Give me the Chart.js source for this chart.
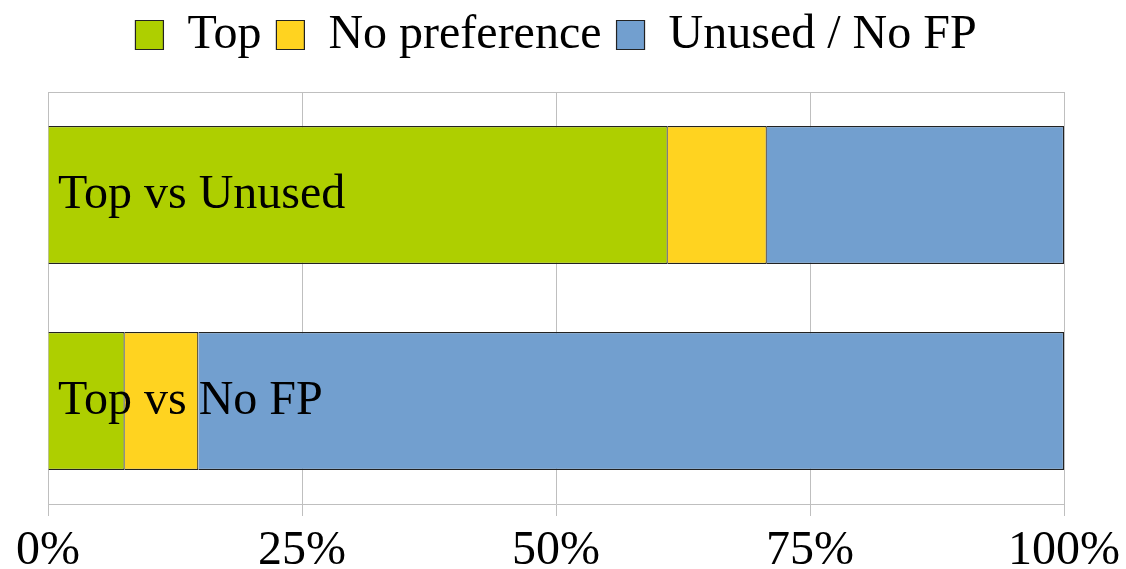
<!DOCTYPE html>
<html>
<head>
<meta charset="utf-8">
<script src="https://cdn.jsdelivr.net/npm/chart.js@4/dist/chart.umd.min.js"></script>
<style>
html,body{margin:0;padding:0;background:#fff;}
#wrap{width:1126px;height:569px;position:relative;}
</style>
</head>
<body>
<div id="wrap"><canvas id="c"></canvas></div>
<script>
const categories = ["Top vs Unused", "Top vs No FP"];
const topValues = [61.0, 7.55];
const noPreferenceValues = [9.75, 7.25];
const unusedValues = [29.25, 85.2];
const tickValues = [0, 25, 50, 75, 100];

const FONT = "'Liberation Serif', 'Times New Roman', serif";
const BORDER = '#222';

new Chart(document.getElementById('c'), {
  type: 'bar',
  data: {
    labels: categories,
    datasets: [
      { label: 'Top', data: topValues, backgroundColor: '#aecf00', borderColor: BORDER, borderWidth: 1.2 },
      { label: 'No preference', data: noPreferenceValues, backgroundColor: '#ffd320', borderColor: BORDER, borderWidth: 1.2 },
      { label: 'Unused / No FP', data: unusedValues, backgroundColor: '#729fcf', borderColor: BORDER, borderWidth: 1.2 }
    ]
  },
  options: {
    indexAxis: 'y',
    responsive: true,
    maintainAspectRatio: false,
    animation: false,
    layout: { padding: { left: 48, right: 62, top: -4, bottom: 0 } },
    datasets: { bar: { barPercentage: 0.67, categoryPercentage: 1.0 } },
    plugins: {
      legend: {
        position: 'top',
        labels: {
          font: { family: FONT, size: 48 },
          color: '#000',
          boxWidth: 28,
          boxHeight: 29,
          padding: 15
        }
      },
      tooltip: { enabled: false }
    },
    scales: {
      x: {
        stacked: true,
        min: 0,
        max: 100,
        afterBuildTicks: (s) => { s.ticks = tickValues.map(v => ({ value: v })); },
        afterFit: (s) => { s.height = 65; s.paddingLeft = 0; s.paddingRight = 0; },
        ticks: {
          callback: (v) => v + '%',
          font: { family: FONT, size: 48, lineHeight: 0.55 },
          color: '#000',
          padding: 22,
          maxRotation: 0
        },
        grid: { color: '#bfbfbf', lineWidth: 1, tickLength: 12 },
        border: { color: '#bfbfbf', width: 1 }
      },
      x2: {
        position: 'top',
        display: true,
        min: 0,
        max: 100,
        ticks: { display: false },
        grid: { display: false, drawTicks: false },
        border: { color: '#bfbfbf', width: 1 },
        afterFit: (s) => { s.height = 23; s.paddingLeft = 0; s.paddingRight = 0; }
      },
      y: {
        stacked: true,
        afterFit: (s) => { s.width = 0; },
        ticks: {
          z: 1,
          mirror: true,
          padding: 10,
          font: { family: FONT, size: 48 },
          color: '#000'
        },
        grid: { display: false, drawTicks: false },
        border: { display: false }
      }
    }
  }
});
</script>
</body>
</html>
